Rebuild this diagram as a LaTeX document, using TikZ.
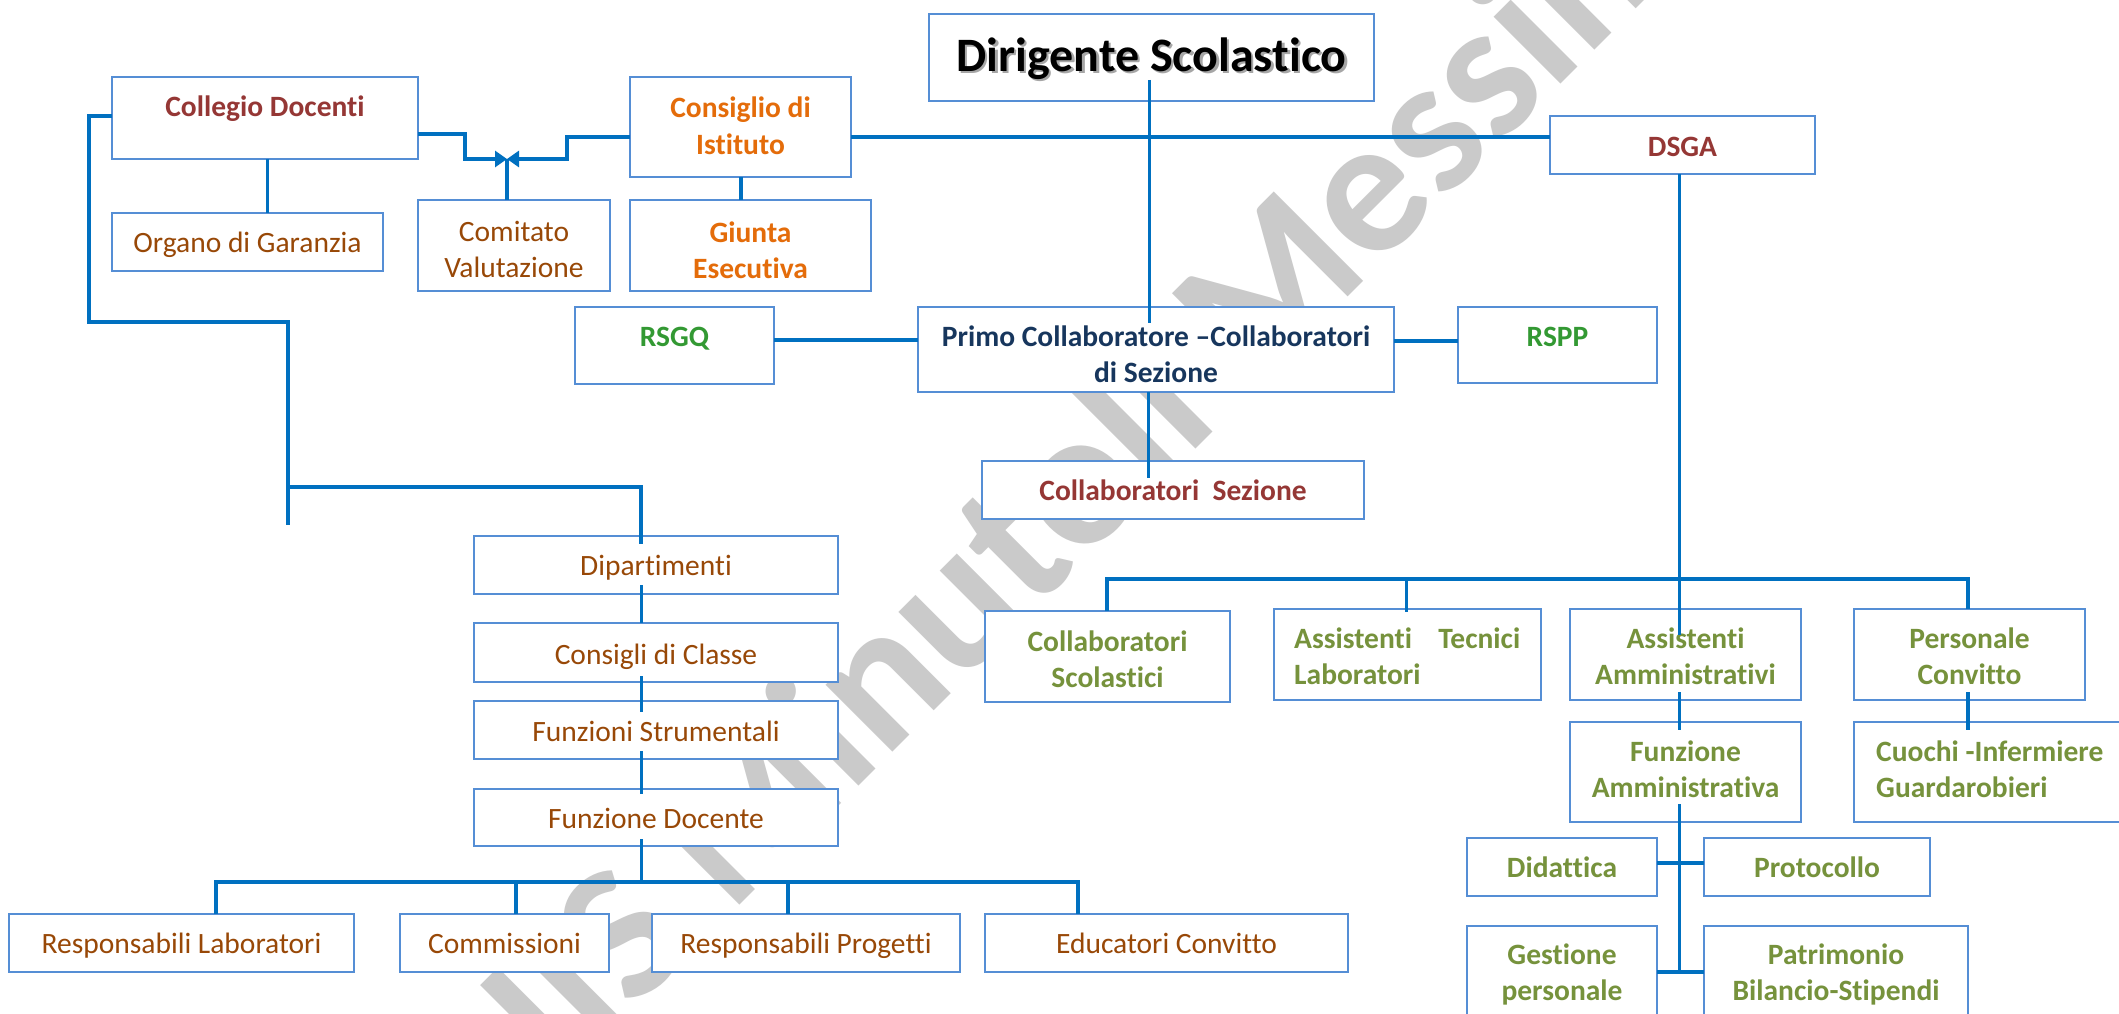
\documentclass[tikz,border=0pt]{standalone}
\usepackage{fontspec}
\setmainfont{Carlito}[Ligatures=NoCommon]
\usetikzlibrary{arrows.meta,calc}
\definecolor{lineblue}{HTML}{0070C0}
\definecolor{boxblue}{HTML}{558ED5}
\definecolor{dred}{HTML}{953735}
\definecolor{orng}{HTML}{E46C0A}
\definecolor{brwn}{HTML}{984807}
\definecolor{grn}{HTML}{339933}
\definecolor{navy}{HTML}{17365D}
\definecolor{olive}{HTML}{76923C}
\definecolor{wmgray}{HTML}{CACACA}
\newcommand\mytxt[5]{\node[#4,anchor=base] (#1) at (#2,#3) {#5};}
\newcommand\mytxtl[5]{\node[#4,anchor=base west] (#1) at (#2,#3) {#5};}
\begin{document}
\begin{tikzpicture}[x=1pt,y=-1pt,
  box/.style={draw=boxblue,line width=2.5pt,fill=white,rectangle,inner sep=0pt,outer sep=0pt},
  tr/.style={inner sep=0pt,font=\fontsize{29.5}{36}\selectfont},
  tb/.style={inner sep=0pt,font=\fontsize{29.5}{36}\selectfont\bfseries},
  thk/.style={draw=lineblue,line width=4pt},
  thn/.style={draw=lineblue,line width=3pt},
  bowtip/.tip={Triangle[length=12pt,width=16pt]}]
\clip (0,0) rectangle (2119,1014);
\fill[white] (0,0) rectangle (2119,1014);
% watermark
\node[inner sep=0pt,anchor=base west,rotate=45,text=wmgray,font=\fontsize{195}{195}\selectfont\bfseries] (wm) at (560,1085) {IIS Minutoli Messina};
% boxes
\node[box,minimum width=306pt,minimum height=82pt] (collegio) at (265,118) {};
\node[box,minimum width=271pt,minimum height=58pt] (organo) at (247.5,242) {};
\node[box,minimum width=192pt,minimum height=91pt] (comitato) at (514,245.5) {};
\node[box,minimum width=221pt,minimum height=100pt] (consiglio) at (740.5,127) {};
\node[box,minimum width=241pt,minimum height=91pt] (giunta) at (750.5,245.5) {};
\node[box,minimum width=445pt,minimum height=87pt] (dirigente) at (1151.5,57.5) {};
\node[box,minimum width=265pt,minimum height=58pt] (dsga) at (1682.5,145) {};
\node[box,minimum width=199pt,minimum height=77pt] (rsgq) at (674.5,345.5) {};
\node[box,minimum width=476pt,minimum height=85pt] (primo) at (1156,349.5) {};
\node[box,minimum width=199pt,minimum height=76pt] (rspp) at (1557.5,345) {};
\node[box,minimum width=382pt,minimum height=58pt] (collsez) at (1173,490) {};
\node[box,minimum width=364pt,minimum height=58pt] (dip) at (656,565) {};
\node[box,minimum width=364pt,minimum height=59pt] (consigli) at (656,652.5) {};
\node[box,minimum width=364pt,minimum height=58pt] (funzstr) at (656,730) {};
\node[box,minimum width=364pt,minimum height=57pt] (funzdoc) at (656,817.5) {};
\node[box,minimum width=345pt,minimum height=58pt] (resplab) at (181.5,943) {};
\node[box,minimum width=209pt,minimum height=58pt] (commiss) at (504.5,943) {};
\node[box,minimum width=308pt,minimum height=58pt] (respprog) at (806,943) {};
\node[box,minimum width=363pt,minimum height=58pt] (educ) at (1166.5,943) {};
\node[box,minimum width=245pt,minimum height=91pt] (collscol) at (1107.5,656.5) {};
\node[box,minimum width=267pt,minimum height=91pt] (asstec) at (1407.5,654.5) {};
\node[box,minimum width=231pt,minimum height=91pt] (assamm) at (1685.5,654.5) {};
\node[box,minimum width=231pt,minimum height=91pt] (perscon) at (1969.5,654.5) {};
\node[box,minimum width=231pt,minimum height=100pt] (funzamm) at (1685.5,772) {};
\node[box,minimum width=276pt,minimum height=100pt] (cuochi) at (1992,772) {};
\node[box,minimum width=190pt,minimum height=58pt] (didattica) at (1562,867) {};
\node[box,minimum width=226pt,minimum height=58pt] (protocollo) at (1817,867) {};
\node[box,minimum width=190pt,minimum height=104pt] (gestione) at (1562,978) {};
\node[box,minimum width=264pt,minimum height=104pt] (patrimonio) at (1836,978) {};
% texts
\mytxt{collegio-t}{265}{117}{tb,text=dred}{Collegio Docenti}
\mytxt{organo-t}{247.5}{252}{tr,text=brwn}{Organo di Garanzia}
\mytxt{comitato-t1}{514}{241}{tr,text=brwn}{Comitato}
\mytxt{comitato-t2}{514}{277}{tr,text=brwn}{Valutazione}
\mytxt{consiglio-t1}{740.5}{117.5}{tb,text=orng}{Consiglio di}
\mytxt{consiglio-t2}{740.5}{154.5}{tb,text=orng}{Istituto}
\mytxt{giunta-t1}{750.5}{242}{tb,text=orng}{Giunta}
\mytxt{giunta-t2}{750.5}{278}{tb,text=orng}{Esecutiva}
\mytxt{dirigente-t}{1151.5}{71.5}{inner sep=0pt,font=\fontsize{48}{56}\selectfont\bfseries,text=black}{\rlap{\hspace{2.5pt}\raisebox{-2.5pt}{\color{black!35}Dirigente Scolastico}}Dirigente Scolastico}
\mytxt{dsga-t}{1682.5}{157}{tb,text=dred}{DSGA}
\mytxt{rsgq-t}{674.5}{346}{tb,text=grn}{RSGQ}
\mytxt{primo-t1}{1156}{346}{tb,text=navy}{Primo Collaboratore –Collaboratori}
\mytxt{primo-t2}{1156}{382}{tb,text=navy}{di Sezione}
\mytxt{rspp-t}{1557.5}{346}{tb,text=grn}{RSPP}
\mytxt{collsez-t}{1173}{500}{tb,text=dred}{Collaboratori\ \ Sezione}
\mytxt{dip-t}{656}{575}{tr,text=brwn}{Dipartimenti}
\mytxt{consigli-t}{656}{664}{tr,text=brwn}{Consigli di Classe}
\mytxt{funzstr-t}{656}{741}{tr,text=brwn}{Funzioni Strumentali}
\mytxt{funzdoc-t}{656}{828}{tr,text=brwn}{Funzione Docente}
\mytxt{resplab-t}{181.5}{953.5}{tr,text=brwn}{Responsabili Laboratori}
\mytxt{commiss-t}{504.5}{953.5}{tr,text=brwn}{Commissioni}
\mytxt{respprog-t}{806}{953.5}{tr,text=brwn}{Responsabili Progetti}
\mytxt{educ-t}{1166.5}{953.5}{tr,text=brwn}{Educatori Convitto}
\mytxt{collscol-t1}{1107.5}{651}{tb,text=olive}{Collaboratori}
\mytxt{collscol-t2}{1107.5}{687}{tb,text=olive}{Scolastici}
\mytxtl{asstec-t1}{1294}{648}{tb,text=olive}{\makebox[226pt][s]{Assistenti\hfill Tecnici}}
\mytxtl{asstec-t2}{1294}{684}{tb,text=olive}{Laboratori}
\mytxt{assamm-t1}{1685.5}{648}{tb,text=olive}{Assistenti}
\mytxt{assamm-t2}{1685.5}{684}{tb,text=olive}{Amministrativi}
\mytxt{perscon-t1}{1969.5}{648}{tb,text=olive}{Personale}
\mytxt{perscon-t2}{1969.5}{684}{tb,text=olive}{Convitto}
\mytxt{funzamm-t1}{1685.5}{761}{tb,text=olive}{Funzione}
\mytxt{funzamm-t2}{1685.5}{797}{tb,text=olive}{Amministrativa}
\mytxtl{cuochi-t1}{1876}{761}{tb,text=olive}{Cuochi -Infermiere}
\mytxtl{cuochi-t2}{1876}{797}{tb,text=olive}{Guardarobieri}
\mytxt{didattica-t}{1562}{877}{tb,text=olive}{Didattica}
\mytxt{protocollo-t}{1817}{877}{tb,text=olive}{Protocollo}
\mytxt{gestione-t1}{1562}{964}{tb,text=olive}{Gestione}
\mytxt{gestione-t2}{1562}{1000}{tb,text=olive}{personale}
\mytxt{patrimonio-t1}{1836}{964}{tb,text=olive}{Patrimonio}
\mytxt{patrimonio-t2}{1836}{1000}{tb,text=olive}{Bilancio-Stipendi}
% free coordinates
\coordinate (cL) at (89,322);
\coordinate (cR) at (288,322);
\coordinate (cJ) at (288,487);
\coordinate (cEnd) at (288,525);
\coordinate (jn) at (507,159);
\coordinate (fdL) at (216,882);
\coordinate (fd2) at (516,882);
\coordinate (fdM) at (641,882);
\coordinate (fd3) at (788,882);
\coordinate (fdR) at (1078,882);
\coordinate (dbR) at (1968,579);
\coordinate (faB) at (1679,972);
% connectors
\draw[thk] ($(collegio.west)+(0,-2)$) -| (cL) -- (cR) -- (cEnd);
\draw[thk] (cJ) -| ($(dip.north)+(-15,8)$);
\draw[thn] ($(collegio.south)+(2.5,0)$) -- ($(collegio.south |- organo.north)+(2.5,0)$);
\draw[thk] (jn |- comitato.north) -- (jn);
\draw[thk,-bowtip] ($(collegio.east)+(0,16)$) -- ++(47,0) |- (jn);
\draw[thk,-bowtip] ($(consiglio.west)+(0,10)$) -- ++(-63,0) |- (jn);
\draw[thk] ($(consiglio.south)+(0.5,0)$) -- ($(consiglio.south |- giunta.north)+(0.5,0)$);
\draw[thk] ($(consiglio.east)+(0,10)$) -- ($(consiglio.east -| dsga.west)+(0,10)$);
\draw[thn] ($(dirigente.center)+(-2.5,22.5)$) -- ($(primo.north)+(-7,16)$);
\draw[thn] ($(primo.south)+(-8,0)$) -- ($(collsez.north)+(-25,17)$);
\draw[thk] ($(rsgq.east)+(0,-5.5)$) -- ($(rsgq.east -| primo.west)+(0,-5.5)$);
\draw[thk] ($(rspp.west)+(0,-4)$) -- ($(rspp.west -| primo.east)+(0,-4)$);
\draw[thn] ($(dsga.south)+(-3.5,0)$) -- ($(assamm.north)+(-6.5,26)$);
\draw[thk] ($(collscol.north)+(-0.5,0)$) |- (dbR) -- (dbR |- perscon.north);
\draw[thn] ($(asstec.north |- dbR)+(-1.5,0)$) -- ($(asstec.north)+(-1.5,3)$);
\draw[thn] ($(assamm.south)+(-6.5,-8)$) -- ($(funzamm.north)+(-6.5,8)$);
\draw[thk] ($(perscon.south)+(-1.5,-8)$) -- ($(perscon.south |- cuochi.north)+(-1.5,8)$);
\draw[thn] ($(funzamm.south)+(-6.5,-18)$) -- (faB);
\draw[thk] ($(didattica.east)+(0,-4)$) -- ($(didattica.east -| protocollo.west)+(0,-4)$);
\draw[thk] ($(gestione.east)+(0,-6)$) -- ($(gestione.east -| patrimonio.west)+(0,-6)$);
\draw[thn] ($(dip.south)+(-15,-9)$) -- ($(consigli.north)+(-15,0)$);
\draw[thn] ($(consigli.south)+(-15,-6)$) -- ($(funzstr.north)+(-15,11)$);
\draw[thn] ($(funzstr.south)+(-15,-8)$) -- ($(funzdoc.north)+(-15,5)$);
\draw[thn] ($(funzdoc.south)+(-15,-7)$) -- (fdM);
\draw[thk] (resplab.north -| fdL) |- (fdR) -- (fdR |- educ.north);
\draw[thk] (fd2) -- (fd2 |- commiss.north);
\draw[thk] (fd3) -- (fd3 |- respprog.north);
\end{tikzpicture}
\end{document}
